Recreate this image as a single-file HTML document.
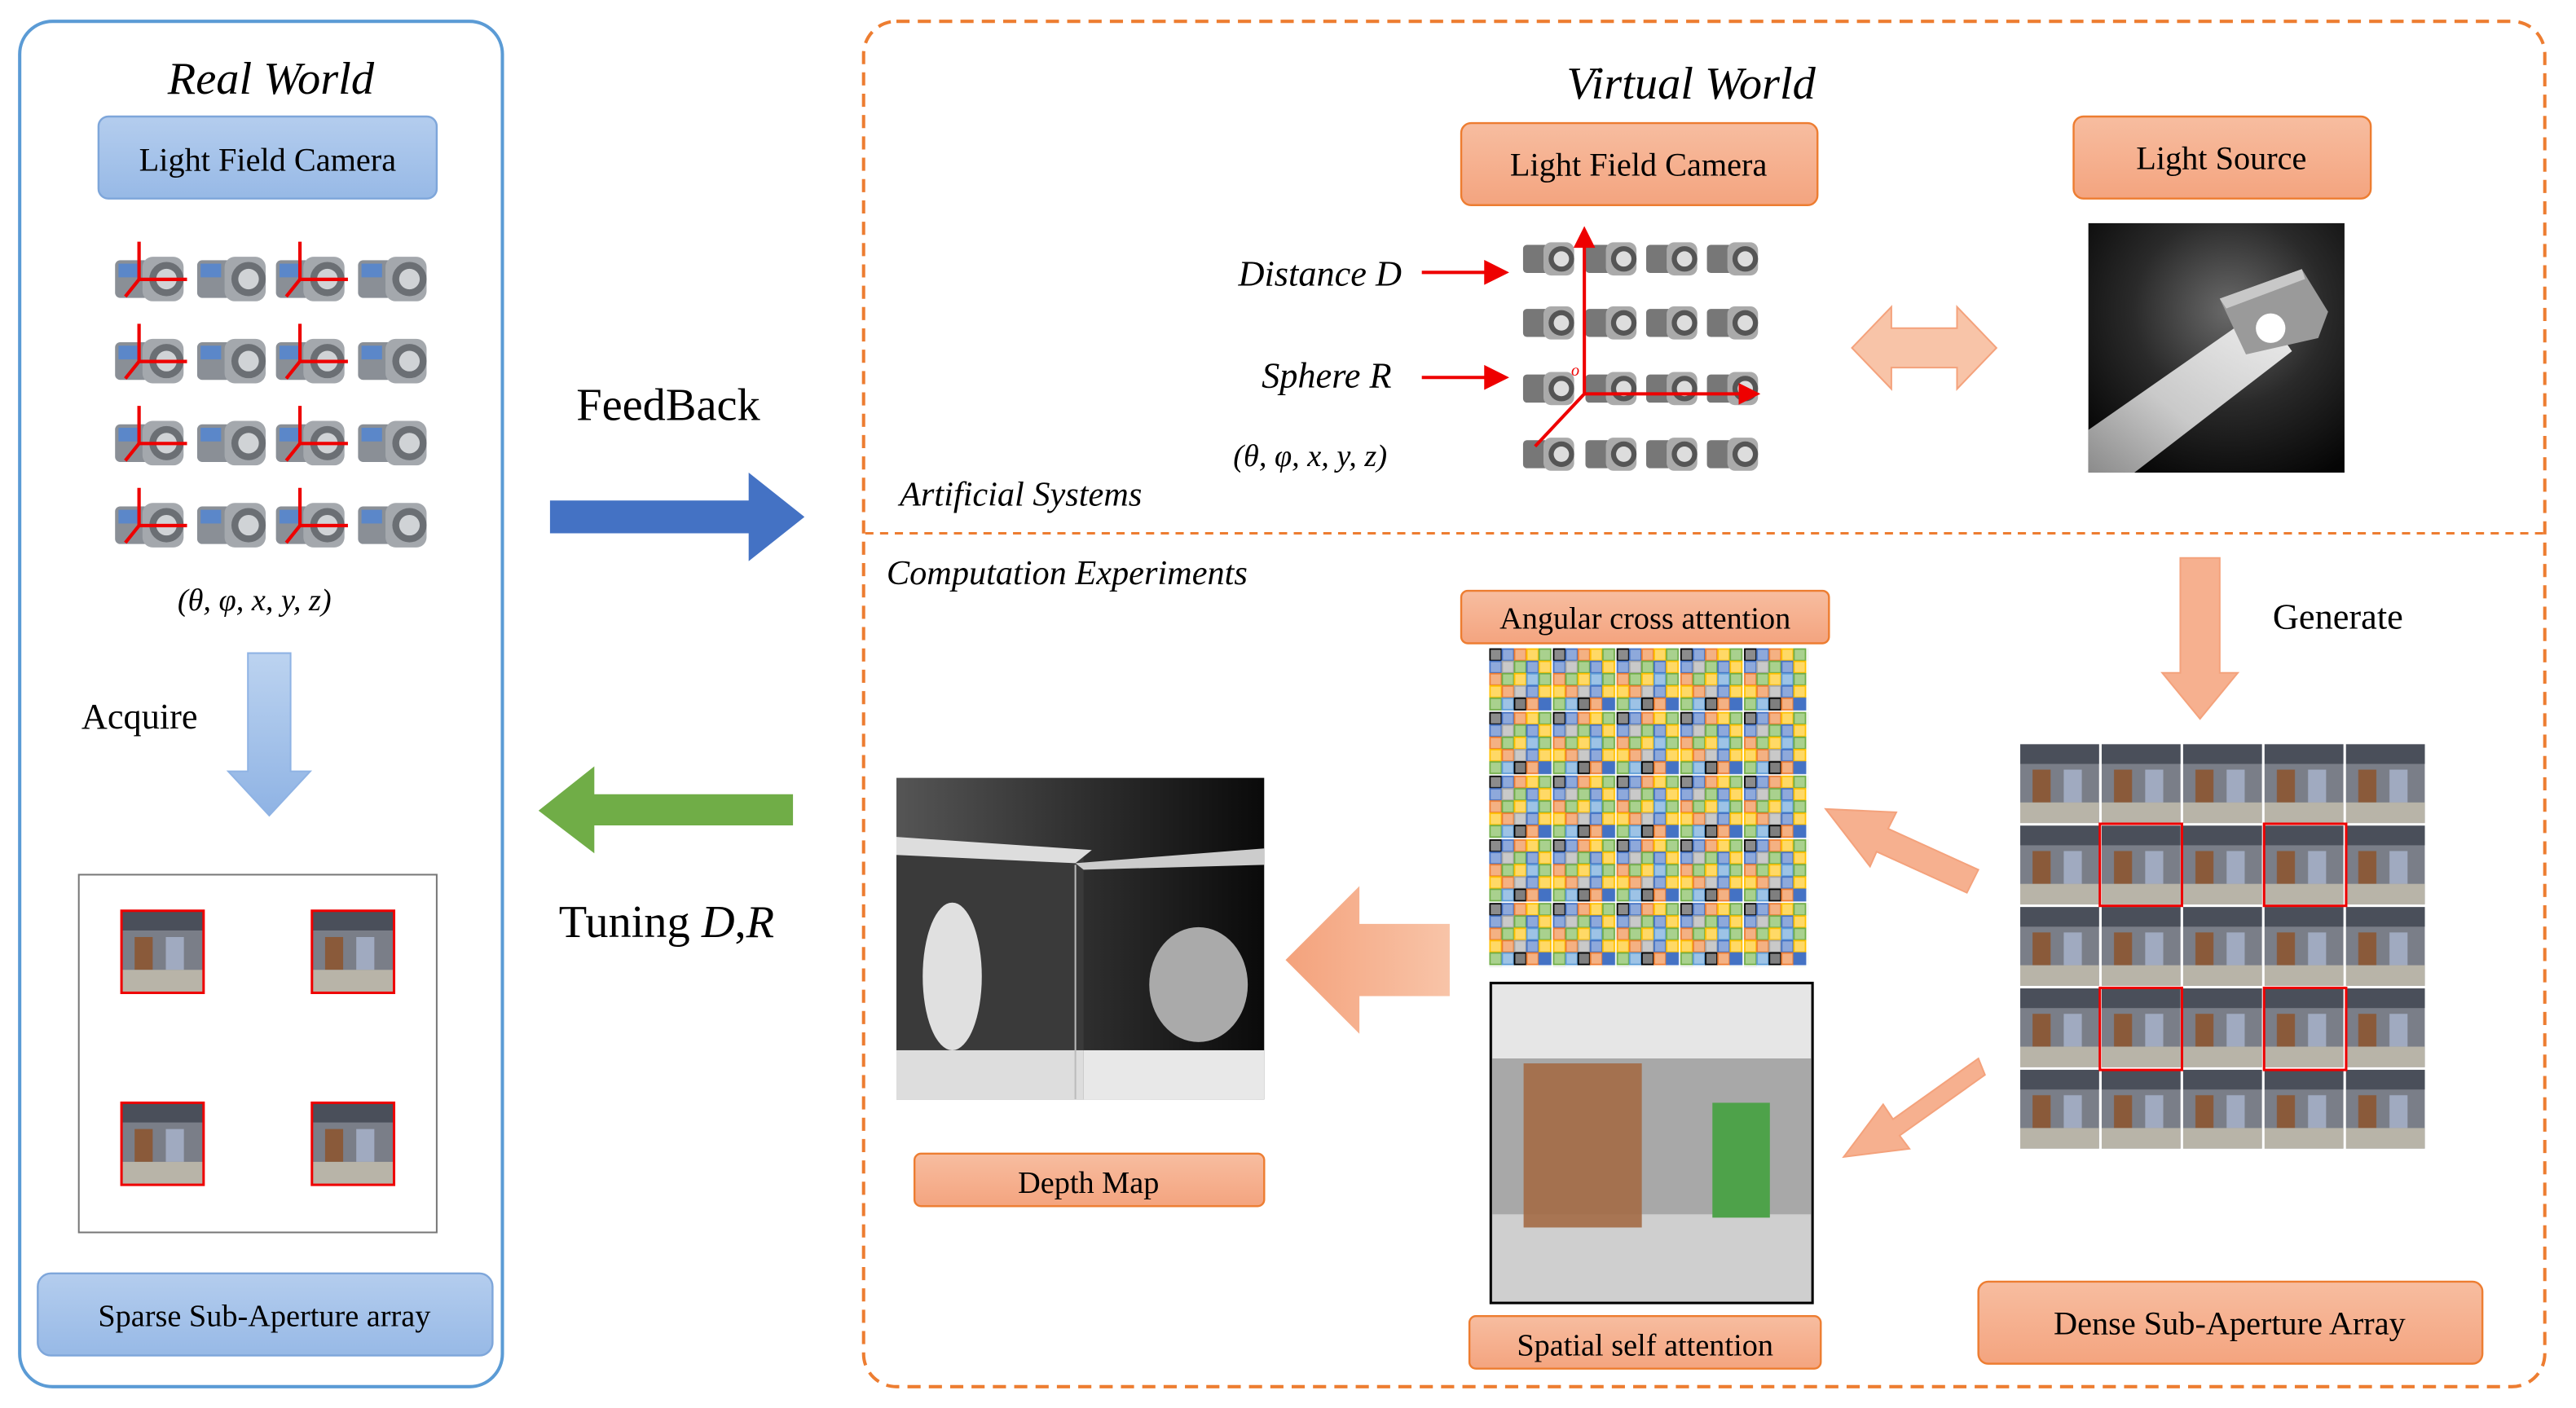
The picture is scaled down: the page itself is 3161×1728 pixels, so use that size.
<!DOCTYPE html>
<html><head><meta charset="utf-8"><style>
html,body{margin:0;padding:0;background:#fff;}
svg{display:block;}
text{font-family:"Liberation Serif",serif;}
</style></head><body>
<svg width="3161" height="1728" viewBox="0 0 1569 858" preserveAspectRatio="none" xmlns="http://www.w3.org/2000/svg">
<defs>
<linearGradient id="bg" x1="0" y1="0" x2="0" y2="1"><stop offset="0" stop-color="#b4cdee"/><stop offset="1" stop-color="#97b9e6"/></linearGradient>
<linearGradient id="og" x1="0" y1="0" x2="0" y2="1"><stop offset="0" stop-color="#f7bda0"/><stop offset="1" stop-color="#f4a47f"/></linearGradient>
<linearGradient id="arrB" x1="0" y1="0" x2="0" y2="1"><stop offset="0" stop-color="#bcd3f0"/><stop offset="1" stop-color="#8fb3e4"/></linearGradient>
<linearGradient id="arrO" x1="0" y1="0" x2="1" y2="0"><stop offset="0" stop-color="#f4a27c"/><stop offset="1" stop-color="#f8c4a8"/></linearGradient>
<radialGradient id="ls" cx="0.55" cy="0.35" r="0.75"><stop offset="0" stop-color="#6a6a6a"/><stop offset="0.5" stop-color="#2a2a2a"/><stop offset="1" stop-color="#050505"/></radialGradient>
<linearGradient id="beam" x1="1" y1="0" x2="0" y2="1"><stop offset="0" stop-color="#ffffff"/><stop offset="0.6" stop-color="#dcdcdc"/><stop offset="1" stop-color="#9a9a9a"/></linearGradient>
<linearGradient id="dm" x1="0" y1="0" x2="1" y2="0"><stop offset="0" stop-color="#555"/><stop offset="1" stop-color="#0a0a0a"/></linearGradient>
<symbol id="cam" viewBox="0 0 46 36">
<rect x="2" y="8" width="20" height="22" rx="3" fill="#8a8f96"/>
<rect x="18" y="6" width="24" height="26" rx="6" fill="#a4a8ad"/>
<circle cx="32" cy="19" r="10" fill="#6b6f74"/>
<circle cx="32" cy="19" r="6" fill="#d0d3d6"/>
<rect x="4" y="10" width="12" height="8" fill="#5b87c9"/>
</symbol>
<symbol id="camg" viewBox="0 0 46 36">
<rect x="2" y="8" width="20" height="22" rx="3" fill="#777"/>
<rect x="18" y="6" width="24" height="26" rx="6" fill="#aaa"/>
<circle cx="32" cy="19" r="10" fill="#555"/>
<circle cx="32" cy="19" r="6" fill="#ddd"/>
</symbol>
<symbol id="ax" viewBox="0 0 46 36">
<line x1="16" y1="24" x2="16" y2="2" stroke="#e00" stroke-width="2"/>
<line x1="16" y1="24" x2="44" y2="24" stroke="#e00" stroke-width="2"/>
<line x1="16" y1="24" x2="8" y2="34" stroke="#e00" stroke-width="2"/>
</symbol>
<pattern id="mos" x="907" y="395" width="38.8" height="38.8" patternUnits="userSpaceOnUse">
<rect width="38.8" height="38.8" fill="#fff"/>
<g stroke-width="0.9">
<rect x="0.5" y="0.5" width="7" height="7" fill="#8c8c8c" stroke="#000"/><rect x="8" y="0.5" width="7" height="7" fill="#8ea9db" stroke="#4472c4"/><rect x="15.5" y="0.5" width="7" height="7" fill="#f4b183" stroke="#ed7d31"/><rect x="23" y="0.5" width="7" height="7" fill="#ffd966" stroke="#ffc000"/><rect x="30.5" y="0.5" width="7" height="7" fill="#a9d18e" stroke="#70ad47"/>
<rect x="0.5" y="8" width="7" height="7" fill="#8ea9db" stroke="#4472c4"/><rect x="8" y="8" width="7" height="7" fill="#c9c9c9" stroke="#a5a5a5"/><rect x="15.5" y="8" width="7" height="7" fill="#a9d18e" stroke="#70ad47"/><rect x="23" y="8" width="7" height="7" fill="#8ea9db" stroke="#4472c4"/><rect x="30.5" y="8" width="7" height="7" fill="#ffd966" stroke="#ffc000"/>
<rect x="0.5" y="15.5" width="7" height="7" fill="#f4b183" stroke="#ed7d31"/><rect x="8" y="15.5" width="7" height="7" fill="#a9d18e" stroke="#70ad47"/><rect x="15.5" y="15.5" width="7" height="7" fill="#ffd966" stroke="#ffc000"/><rect x="23" y="15.5" width="7" height="7" fill="#9dc3e6" stroke="#5b9bd5"/><rect x="30.5" y="15.5" width="7" height="7" fill="#a9d18e" stroke="#70ad47"/>
<rect x="0.5" y="23" width="7" height="7" fill="#ffd966" stroke="#ffc000"/><rect x="8" y="23" width="7" height="7" fill="#f4b183" stroke="#ed7d31"/><rect x="15.5" y="23" width="7" height="7" fill="#c9c9c9" stroke="#a5a5a5"/><rect x="23" y="23" width="7" height="7" fill="#8ea9db" stroke="#4472c4"/><rect x="30.5" y="23" width="7" height="7" fill="#ffd966" stroke="#ffc000"/>
<rect x="0.5" y="30.5" width="7" height="7" fill="#a9d18e" stroke="#70ad47"/><rect x="8" y="30.5" width="7" height="7" fill="#9dc3e6" stroke="#5b9bd5"/><rect x="15.5" y="30.5" width="7" height="7" fill="#7f7f7f" stroke="#000"/><rect x="23" y="30.5" width="7" height="7" fill="#f4b183" stroke="#ed7d31"/><rect x="30.5" y="30.5" width="7" height="7" fill="#4472c4" stroke="#4472c4"/>
</g>
</pattern>
<pattern id="sc" x="1230" y="453" width="49.6" height="49.6" patternUnits="userSpaceOnUse">
<rect width="49.6" height="49.6" fill="#fff"/>
<rect x="0.5" y="0.5" width="48" height="48" fill="#7a7e88"/>
<rect x="0.5" y="0.5" width="48" height="12" fill="#4a4f5a"/>
<rect x="8" y="16" width="11" height="20" fill="#8a5a3a"/>
<rect x="27" y="16" width="11" height="20" fill="#a0aac0"/>
<rect x="0.5" y="36" width="48" height="12.5" fill="#b8b4a8"/>
</pattern>
<symbol id="th" viewBox="0 0 50 50">
<rect width="50" height="50" fill="#7a7e88"/><rect width="50" height="12" fill="#4a4f5a"/><rect x="8" y="16" width="11" height="20" fill="#8a5a3a"/><rect x="27" y="16" width="11" height="20" fill="#a0aac0"/><rect y="36" width="50" height="14" fill="#b8b4a8"/>
</symbol>
</defs>

<!-- Left panel -->
<rect x="12" y="13" width="294" height="832" rx="20" fill="none" stroke="#5b9bd5" stroke-width="2"/>
<text x="165" y="57" font-size="28" font-style="italic" text-anchor="middle">Real World</text>
<rect x="60" y="71" width="206" height="50" rx="6" fill="url(#bg)" stroke="#7ea6da" stroke-width="1.2"/>
<text x="163" y="104" font-size="20" text-anchor="middle">Light Field Camera</text>
<g>
<use href="#cam" x="68" y="150" width="48" height="38"/><use href="#cam" x="118" y="150" width="48" height="38"/><use href="#cam" x="166" y="150" width="48" height="38"/><use href="#cam" x="216" y="150" width="48" height="38"/>
<use href="#cam" x="68" y="200" width="48" height="38"/><use href="#cam" x="118" y="200" width="48" height="38"/><use href="#cam" x="166" y="200" width="48" height="38"/><use href="#cam" x="216" y="200" width="48" height="38"/>
<use href="#cam" x="68" y="250" width="48" height="38"/><use href="#cam" x="118" y="250" width="48" height="38"/><use href="#cam" x="166" y="250" width="48" height="38"/><use href="#cam" x="216" y="250" width="48" height="38"/>
<use href="#cam" x="68" y="300" width="48" height="38"/><use href="#cam" x="118" y="300" width="48" height="38"/><use href="#cam" x="166" y="300" width="48" height="38"/><use href="#cam" x="216" y="300" width="48" height="38"/>
<use href="#ax" x="68" y="145" width="48" height="38"/><use href="#ax" x="166" y="145" width="48" height="38"/>
<use href="#ax" x="68" y="195" width="48" height="38"/><use href="#ax" x="166" y="195" width="48" height="38"/>
<use href="#ax" x="68" y="245" width="48" height="38"/><use href="#ax" x="166" y="245" width="48" height="38"/>
<use href="#ax" x="68" y="295" width="48" height="38"/><use href="#ax" x="166" y="295" width="48" height="38"/>
</g>
<text x="155" y="372" font-size="19" text-anchor="middle" font-style="italic">(θ, φ, x, y, z)</text>
<polygon points="151,398 177,398 177,470 189,470 164,497 139,470 151,470" fill="url(#arrB)" stroke="#8fb3e4"/>
<text x="85" y="444" font-size="22" text-anchor="middle">Acquire</text>
<rect x="48" y="533" width="218" height="218" fill="#fff" stroke="#777" stroke-width="1"/>
<use href="#th" x="74" y="555" width="50" height="50"/><rect x="74" y="555" width="50" height="50" fill="none" stroke="#e00" stroke-width="1.5"/>
<use href="#th" x="190" y="555" width="50" height="50"/><rect x="190" y="555" width="50" height="50" fill="none" stroke="#e00" stroke-width="1.5"/>
<use href="#th" x="74" y="672" width="50" height="50"/><rect x="74" y="672" width="50" height="50" fill="none" stroke="#e00" stroke-width="1.5"/>
<use href="#th" x="190" y="672" width="50" height="50"/><rect x="190" y="672" width="50" height="50" fill="none" stroke="#e00" stroke-width="1.5"/>
<rect x="23" y="776" width="277" height="50" rx="8" fill="url(#bg)" stroke="#7ea6da" stroke-width="1.2"/>
<text x="161" y="808" font-size="19" text-anchor="middle">Sparse Sub-Aperture array</text>

<!-- middle arrows -->
<text x="407" y="256" font-size="28" text-anchor="middle">FeedBack</text>
<polygon points="335,305 456,305 456,288 490,315 456,342 456,325 335,325" fill="#4472c4"/>
<polygon points="483,484 362,484 362,467 328,494 362,520 362,503 483,503" fill="#70ad47"/>
<text x="406" y="571" font-size="28" text-anchor="middle">Tuning <tspan font-style="italic">D</tspan>,<tspan font-style="italic">R</tspan></text>

<!-- Right panel -->
<rect x="526" y="13" width="1024" height="832" rx="20" fill="none" stroke="#ed7d31" stroke-width="2" stroke-dasharray="8,5"/>
<line x1="527" y1="325" x2="1549" y2="325" stroke="#ed7d31" stroke-width="1.5" stroke-dasharray="5,4"/>
<text x="1030" y="60" font-size="28" font-style="italic" text-anchor="middle">Virtual World</text>
<rect x="890" y="75" width="217" height="50" rx="6" fill="url(#og)" stroke="#ed7d31" stroke-width="1.2"/>
<text x="998" y="107" font-size="20" text-anchor="middle">Light Field Camera</text>
<rect x="1263" y="71" width="181" height="50" rx="6" fill="url(#og)" stroke="#ed7d31" stroke-width="1.2"/>
<text x="1353" y="103" font-size="20" text-anchor="middle">Light Source</text>
<rect x="1272" y="136" width="156" height="152" fill="url(#ls)"/>
<polygon points="1378,188 1396,214 1300,288 1272,288 1272,262" fill="url(#beam)" opacity="0.9"/>
<polygon points="1352,182 1402,164 1418,190 1412,206 1368,216" fill="#9a9a9a"/>
<polygon points="1352,182 1402,164 1404,170 1356,188" fill="#c8c8c8"/>
<circle cx="1383" cy="200" r="9" fill="#fff"/>
<polygon points="1128,212 1152,187 1152,200 1192,200 1192,187 1216,212 1192,237 1192,224 1152,224 1152,237" fill="#f8c4a8" stroke="#f4a27c"/>
<g>
<use href="#camg" x="925" y="143" width="38" height="28"/><use href="#camg" x="963" y="143" width="38" height="28"/><use href="#camg" x="1000" y="143" width="38" height="28"/><use href="#camg" x="1037" y="143" width="38" height="28"/>
<use href="#camg" x="925" y="182" width="38" height="28"/><use href="#camg" x="963" y="182" width="38" height="28"/><use href="#camg" x="1000" y="182" width="38" height="28"/><use href="#camg" x="1037" y="182" width="38" height="28"/>
<use href="#camg" x="925" y="222" width="38" height="28"/><use href="#camg" x="963" y="222" width="38" height="28"/><use href="#camg" x="1000" y="222" width="38" height="28"/><use href="#camg" x="1037" y="222" width="38" height="28"/>
<use href="#camg" x="925" y="262" width="38" height="28"/><use href="#camg" x="963" y="262" width="38" height="28"/><use href="#camg" x="1000" y="262" width="38" height="28"/><use href="#camg" x="1037" y="262" width="38" height="28"/>
</g>
<g stroke="#e00" stroke-width="2" fill="#e00">
<line x1="965" y1="240" x2="965" y2="148"/><polygon points="960,150 965,140 970,150"/>
<line x1="965" y1="240" x2="1062" y2="240"/><polygon points="1060,235 1070,240 1060,245"/>
<line x1="965" y1="240" x2="935" y2="272"/>
<line x1="866" y1="166" x2="908" y2="166"/><polygon points="905,160 917,166 905,172"/>
<line x1="866" y1="230" x2="908" y2="230"/><polygon points="905,224 917,230 905,236"/>
</g>
<text x="957" y="229" font-size="10" fill="#e00" font-style="italic">o</text>
<text x="804" y="174" font-size="22" font-style="italic" text-anchor="middle">Distance D</text>
<text x="808" y="236" font-size="22" font-style="italic" text-anchor="middle">Sphere R</text>
<text x="798" y="284" font-size="19" font-style="italic" text-anchor="middle">(θ, φ, x, y, z)</text>
<text x="548" y="308" font-size="21" font-style="italic">Artificial Systems</text>
<text x="540" y="356" font-size="21" font-style="italic">Computation Experiments</text>

<polygon points="1328,340 1352,340 1352,410 1363,410 1340,438 1317,410 1328,410" fill="#f6b08f" stroke="#f4a27c"/>
<text x="1424" y="383" font-size="22" text-anchor="middle">Generate</text>

<rect x="1230" y="453" width="248" height="248" fill="url(#sc)"/>
<rect x="1279" y="502" width="50" height="50" fill="none" stroke="#e00" stroke-width="1.5"/>
<rect x="1379" y="502" width="50" height="50" fill="none" stroke="#e00" stroke-width="1.5"/>
<rect x="1279" y="602" width="50" height="50" fill="none" stroke="#e00" stroke-width="1.5"/>
<rect x="1379" y="602" width="50" height="50" fill="none" stroke="#e00" stroke-width="1.5"/>
<rect x="1205" y="781" width="307" height="50" rx="6" fill="url(#og)" stroke="#ed7d31" stroke-width="1.2"/>
<text x="1358" y="813" font-size="20" text-anchor="middle">Dense Sub-Aperture Array</text>

<rect x="890" y="360" width="224" height="32" rx="4" fill="url(#og)" stroke="#ed7d31" stroke-width="1.2"/>
<text x="1002" y="383" font-size="19" text-anchor="middle">Angular cross attention</text>
<rect x="907" y="395" width="194" height="194" fill="url(#mos)"/>

<rect x="908" y="599" width="196" height="195" fill="#bdbdbd" stroke="#000" stroke-width="1.5"/>
<rect x="909" y="600" width="194" height="45" fill="#e6e6e6"/>
<rect x="909" y="645" width="194" height="95" fill="#a8a8a8"/>
<rect x="909" y="740" width="194" height="53" fill="#cfcfcf"/>
<rect x="928" y="648" width="72" height="100" fill="#a36a45" opacity="0.9"/>
<rect x="1043" y="672" width="35" height="70" fill="#4ea24a"/>
<rect x="895" y="802" width="214" height="32" rx="4" fill="url(#og)" stroke="#ed7d31" stroke-width="1.2"/>
<text x="1002" y="826" font-size="19" text-anchor="middle">Spatial self attention</text>

<polygon points="1205,530 1150,505 1155,495 1112,493 1139,528 1143,519 1198,544" fill="#f6b08f" stroke="#f4a27c"/>
<polygon points="1205,645 1153,682 1147,673 1123,705 1163,700 1157,692 1209,655" fill="#f6b08f" stroke="#f4a27c"/>

<rect x="546" y="474" width="224" height="196" fill="url(#dm)"/>
<polygon points="546,520 660,520 660,670 546,670" fill="#3a3a3a"/>
<polygon points="546,510 665,518 655,526 546,521" fill="#ddd"/>
<polygon points="655,526 770,517 770,527 660,530" fill="#ccc"/>
<rect x="546" y="640" width="114" height="30" fill="#ddd"/>
<rect x="660" y="640" width="110" height="30" fill="#e8e8e8"/>
<ellipse cx="580" cy="595" rx="18" ry="45" fill="#e0e0e0"/>
<ellipse cx="730" cy="600" rx="30" ry="35" fill="#aaa"/>
<line x1="655" y1="527" x2="655" y2="670" stroke="#bbb"/>
<rect x="557" y="703" width="213" height="32" rx="4" fill="url(#og)" stroke="#ed7d31" stroke-width="1.2"/>
<text x="663" y="727" font-size="19" text-anchor="middle">Depth Map</text>

<polygon points="883,563 828,563 828,540 783,585 828,630 828,607 883,607" fill="url(#arrO)"/>
</svg>
</body></html>
